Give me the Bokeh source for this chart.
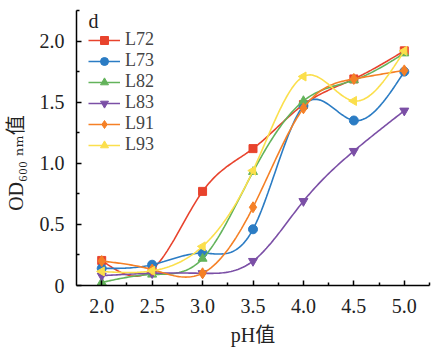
import math
import numpy as np
from bokeh.plotting import figure
from bokeh.models import FixedTicker, Label, Range1d, Legend
from bokeh.embed import file_html
from bokeh.resources import INLINE

# ---- data ----
ph = [2.0, 2.5, 3.0, 3.5, 4.0, 4.5, 5.0]
series_names = ["L72", "L73", "L82", "L83", "L91", "L93"]
L72 = [0.205, 0.13, 0.77, 1.12, 1.48, 1.69, 1.92]
L73 = [0.14, 0.17, 0.265, 0.46, 1.47, 1.35, 1.75]
L82 = [0.025, 0.09, 0.22, 0.93, 1.51, 1.68, 1.90]
L83 = [0.08, 0.10, 0.10, 0.20, 0.69, 1.10, 1.43]
L91 = [0.20, 0.13, 0.10, 0.64, 1.45, 1.69, 1.76]
L93 = [0.115, 0.12, 0.32, 0.94, 1.71, 1.51, 1.92]
x_ticks = [2.0, 2.5, 3.0, 3.5, 4.0, 4.5, 5.0]
y_ticks = [0, 0.5, 1.0, 1.5, 2.0]

values = [L72, L73, L82, L83, L91, L93]
colors = ["#E8432D", "#2B7CC4", "#63B35B", "#7B4FA6", "#F58026", "#FBDF4C"]
markers = ["square", "circle", "triangle", "inverted_triangle", "diamond", "triangle"]
angles = [0, 0, 0, 0, 0, math.pi / 2]
sizes = [8, 9, 9, 9, 11, 9]

SERIF = "Liberation Serif, DejaVu Serif, Noto Sans CJK SC"


def natural_spline(x, y, n=30):
    x = np.asarray(x, float)
    y = np.asarray(y, float)
    k = len(x)
    h = np.diff(x)
    A = np.zeros((k, k))
    b = np.zeros(k)
    A[0, 0] = 1
    A[-1, -1] = 1
    for i in range(1, k - 1):
        A[i, i - 1] = h[i - 1]
        A[i, i] = 2 * (h[i - 1] + h[i])
        A[i, i + 1] = h[i]
        b[i] = 3 * ((y[i + 1] - y[i]) / h[i] - (y[i] - y[i - 1]) / h[i - 1])
    c = np.linalg.solve(A, b)
    xs, ys = [], []
    for i in range(k - 1):
        bb = (y[i + 1] - y[i]) / h[i] - h[i] * (2 * c[i] + c[i + 1]) / 3
        d = (c[i + 1] - c[i]) / (3 * h[i])
        t = np.linspace(0, h[i], n, endpoint=(i == k - 2))
        xs.extend(x[i] + t)
        ys.extend(y[i] + bb * t + c[i] * t ** 2 + d * t ** 3)
    return xs, ys


p = figure(width=431, height=350, output_backend="svg", toolbar_location=None,
           x_range=Range1d(1.75, 5.25), y_range=Range1d(0, 2.25),
           min_border_left=76, min_border_right=2, min_border_top=10, min_border_bottom=65)
p.outline_line_color = None
p.grid.visible = False
p.background_fill_color = "white"
p.border_fill_color = "white"

items = []
for name, vals, col, mk, ang, sz in zip(series_names, values, colors, markers, angles, sizes):
    sx, sy = natural_spline(ph, vals)
    r1 = p.line(sx, sy, line_color=col, line_width=1.6)
    r2 = p.scatter(ph, vals, marker=mk, size=sz, angle=ang, fill_color=col, line_color=col)
    items.append((name, [r1, r2]))

legend = Legend(items=items, location=(12, 130), border_line_color=None,
                background_fill_alpha=0, padding=0, spacing=0, margin=0,
                label_text_font=SERIF, label_text_font_size="18px",
                label_text_line_height=1.0,
                label_height=20, glyph_height=20, glyph_width=32, label_standoff=5)
p.add_layout(legend)

for ax in (p.xaxis[0], p.yaxis[0]):
    ax.axis_line_width = 1.5
    ax.axis_line_color = "black"
    ax.major_tick_in = 5
    ax.major_tick_out = 0
    ax.minor_tick_in = 3
    ax.minor_tick_out = 0
    ax.major_tick_line_width = 1.5
    ax.minor_tick_line_width = 1.5
    ax.major_label_text_font = SERIF
    ax.major_label_text_font_size = "20px"
    ax.major_label_text_color = "#222222"
    ax.axis_label_text_font = SERIF
    ax.axis_label_text_font_size = "20px"
    ax.axis_label_text_font_style = "normal"
    ax.axis_label_text_color = "#222222"

p.xaxis.ticker = FixedTicker(ticks=x_ticks, minor_ticks=list(np.arange(2.25, 5.3, 0.5)))
p.yaxis.ticker = FixedTicker(ticks=y_ticks, minor_ticks=list(np.arange(0.25, 2.3, 0.5)))
p.xaxis.major_label_overrides = {v: f"{v:.1f}" for v in x_ticks}
p.yaxis.major_label_overrides = {v: ("0" if v == 0 else f"{v:.1f}") for v in y_ticks}
p.xaxis.major_label_standoff = 13
p.yaxis.major_label_standoff = 12
p.xaxis.axis_label = "pH值"
p.xaxis.axis_label_standoff = 8
p.yaxis.axis_label = "OD\u2086\u2080\u2080 \u2099\u2098值\u2002\u2002\u2002"
p.yaxis.axis_label_standoff = 10

# panel letter
p.add_layout(Label(x=1.75, y=2.164, x_offset=12, text="d",
                   text_align="left", text_baseline="alphabetic",
                   text_font=SERIF, text_font_size="20px", text_color="#222222"))

open("out.html", "w").write(file_html(p, INLINE))
